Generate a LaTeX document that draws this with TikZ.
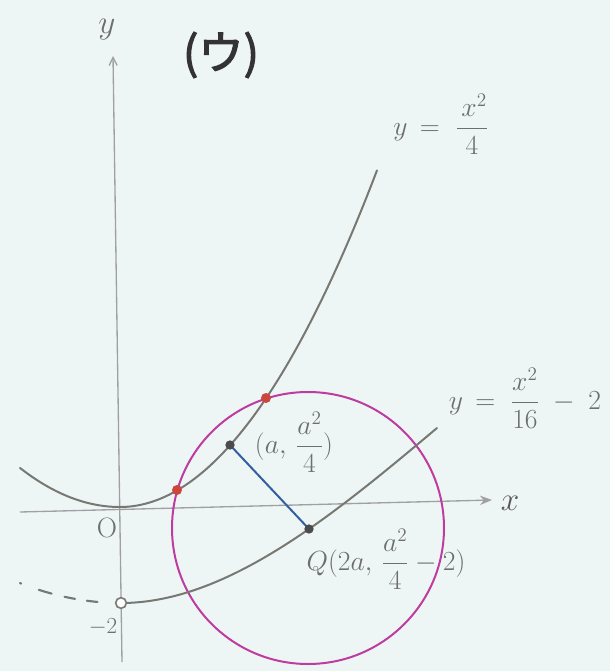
\documentclass[tikz,border=0pt]{standalone}
\usepackage{fontspec}
\usepackage{amsmath}
\newfontfamily\jpfont[FakeBold=2.5]{Noto Sans CJK JP}
\usetikzlibrary{arrows.meta}
\definecolor{bg}{RGB}{238,246,245}
\definecolor{curve}{RGB}{120,120,115}
\definecolor{axis}{RGB}{160,160,160}
\definecolor{circ}{RGB}{190,60,160}
\definecolor{reddot}{RGB}{205,70,60}
\definecolor{seg}{RGB}{50,95,160}
\definecolor{txt}{RGB}{110,110,110}
\tikzset{
  curveline/.style={draw=curve, line width=1.5pt, line cap=round},
  axisline/.style={draw=axis, line width=1pt},
  label/.style={text=txt, inner sep=0pt, font=\fontsize{21}{25}\selectfont},
  smalllabel/.style={text=txt, inner sep=0pt, font=\fontsize{20}{24}\selectfont},
  reddotstyle/.style={circle, fill=reddot, inner sep=0pt, minimum size=7.5pt},
  blackdot/.style={circle, fill=black!70, inner sep=0pt, minimum size=7pt},
  opendot/.style={circle, draw=curve, fill=white, line width=1.2pt, inner sep=0pt, minimum size=8pt}
}
\begin{document}
\begin{tikzpicture}[x=0.75pt,y=-0.75pt]
\fill[bg] (0,0) rectangle (610,671);
\useasboundingbox (0,0) rectangle (610,671);
% axes
\coordinate (xs) at (20,512);
\coordinate (xe) at (492,500);
\coordinate (ys) at (122,662);
\coordinate (ye) at (113,56);
\draw[axisline, -{Stealth[length=9pt,width=7pt]}] (xs) -- (xe);
\draw[axisline, -{Straight Barb[length=6pt,width=6pt]}] (ys) -- (ye);
% circle
\coordinate (Q) at (309,529);
\coordinate (P) at (230,445);
\draw[circ, line width=1.5pt] (308,528) circle[radius=102pt];
% upper parabola
\draw[curveline] plot[domain=-100:0, samples=40] ({120+\x}, {507-0.0039*\x*\x})
  -- plot[domain=0:257, samples=80] ({120+\x}, {507-0.0051*\x*\x});
% lower parabola
\node[opendot] (V) at (121,603) {};
\draw[curveline] plot[domain=6:316, samples=80] ({121+\x}, {603-25.949*(\x/100)^2+2.666*(\x/100)^3});
\draw[curveline, line width=1.6pt, dash pattern=on 1pt off 14pt on 10pt off 10pt on 8pt off 9pt on 8pt off 30pt] plot[domain=-101:-7, samples=40] ({121+\x}, {603-0.00196*\x*\x});
% segment
\draw[seg, line width=1.5pt] (P) -- (Q);
% dots
\node[reddotstyle] (R1) at (177,490) {};
\node[reddotstyle] (R2) at (266,398) {};
\node[blackdot] (Pd) at (P) {};
\node[blackdot] (Qd) at (Q) {};
% labels
\node[text=txt, inner sep=0pt, font=\fontsize{24}{28}\selectfont] (ylab) at (107,30) {$y$};
\node[text=black!65, inner sep=0pt, font=\fontsize{28}{32}\selectfont] (xlab) at (510,503) {$x$};
\node[text=black!80, font=\jpfont\fontsize{34}{38}\selectfont, inner sep=0pt] (title) at (221,55) {(ウ)};
\node[label, font=\fontsize{22}{26}\selectfont] (f1) at (441,124) {$y\,=\;\dfrac{\,x^2}{4}$};
\node[label] (f2) at (525,398) {$y\,=\;\dfrac{x^2}{16}\;-\;2$};
\node[smalllabel] (Plab) at (294,442) {$(a,\,\dfrac{a^2}{4})$};
\node[smalllabel] (Qlab) at (386,559) {$Q(2a,\,\dfrac{a^2}{4}-2)$};
\node[smalllabel, font=\fontsize{21}{25}\selectfont] (O) at (107,528) {O};
\node[smalllabel, font=\fontsize{16}{20}\selectfont] (m2) at (103,627) {$-2$};
\end{tikzpicture}
\end{document}
